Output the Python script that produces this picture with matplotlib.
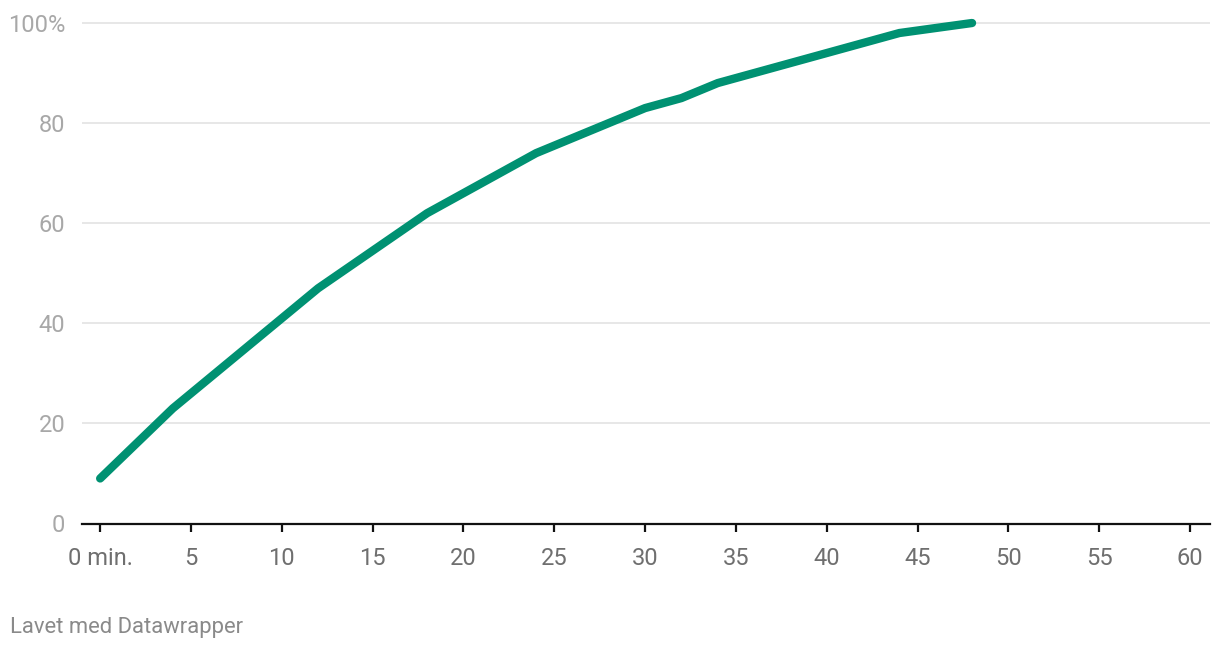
import matplotlib.pyplot as plt
import numpy as np

# minutes vs cumulative share (%)
minutes = [0, 4, 12, 18, 24, 30, 32, 34, 44, 48]
share = [9, 23, 47, 62, 74, 83, 85, 88, 98, 100]

x_ticks = [0, 5, 10, 15, 20, 25, 30, 35, 40, 45, 50, 55, 60]
x_labels = ['0 min.'] + [str(t) for t in x_ticks[1:]]
y_ticks = [0, 20, 40, 60, 80, 100]
y_labels = [str(t) for t in y_ticks[:-1]] + ['100%']

plt.rcParams['font.family'] = ['Roboto', 'DejaVu Sans']

fig = plt.figure(figsize=(12.2, 6.5), dpi=100)
ax = fig.add_axes([82/1220, 126.5/650, 1128/1220, 508/650])

ax.plot(minutes, share, color='#009172', lw=6, solid_capstyle='round',
        solid_joinstyle='round', clip_on=False, zorder=3)

ax.set_xlim(-1, 61.1)
ax.set_ylim(0, 101.5)

ax.set_xticks(x_ticks)
ax.set_xticklabels(x_labels)
ax.set_yticks(y_ticks)
ax.set_yticklabels(y_labels)

ax.grid(axis='y', color='#e3e3e3', lw=1.2)
ax.set_axisbelow(True)
for s in ['top', 'right', 'left']:
    ax.spines[s].set_visible(False)
ax.spines['bottom'].set_color('#111111')
ax.spines['bottom'].set_linewidth(1.6)
ax.spines['bottom'].set_zorder(4)

ax.tick_params(axis='x', length=6, width=1.6, color='#111111', pad=11,
               labelsize=17, labelcolor='#6f6f6f')
ax.tick_params(axis='y', length=0, pad=12, labelsize=17, labelcolor='#a8a8a8')

fig.text(10/1220, 1 - 627/650, 'Lavet med Datawrapper', fontsize=15.8,
         color='#8a8a8a', va='center', ha='left')

fig.savefig('out.png', dpi=100)
